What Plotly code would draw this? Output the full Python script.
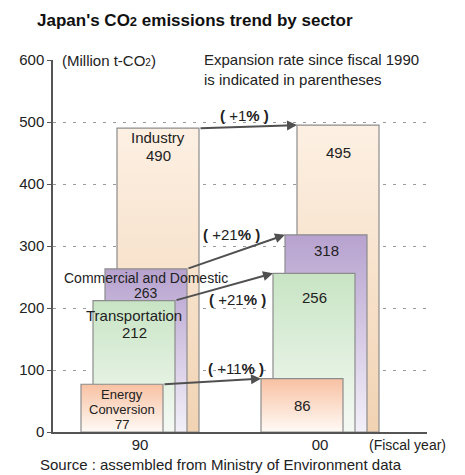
import plotly.graph_objects as go

# ---------------- data ----------------
sectors = ["Industry", "Commercial and Domestic", "Transportation", "Energy Conversion"]
sector_label_lines = [["Industry"], ["Commercial and Domestic"], ["Transportation"], ["Energy", "Conversion"]]
years = ["90", "00"]
values_1990 = [490, 263, 212, 77]
values_2000 = [495, 318, 256, 86]
rate_text = ["+1", "+21", "+21", "+11"]
y_ticks = [0, 100, 200, 300, 400, 500, 600]

# ---------------- style ----------------
top_colors = ["#fdf0e3", "#b7a2cf", "#c8e4c4", "#f8c1a2"]
bottom_colors = ["#f1d3b3", "#f3f0f9", "#f5faf4", "#fffaf6"]
PX = 180.0                      # pixels per x unit
half_w = 41 / PX                 # half bar width
offsets = [18 / PX, 6 / PX, -6 / PX, -18 / PX]
year_x = [0, 1]
FONT = "Liberation Sans, Arial, sans-serif"

# label placement (pixel offsets below bar top, per line)
label_off_1990 = [[9, 27], [9, 24], [15, 32], [10, 25, 40]]
label_font_1990 = [15, 14, 15, 13]
label_off_2000 = [27, 16, 24, 27]
rate_x = [0.58, 0.51, 0.54, 0.535]
rate_y = [511, 318, 214, 103]

fig = go.Figure()
vals = [values_1990, values_2000]
for i, s in enumerate(sectors):
    for j in range(2):
        v = vals[j][i]
        xc = year_x[j] + offsets[i]
        xl, xr = xc - half_w, xc + half_w
        fig.add_trace(go.Scatter(
            x=[xl, xl, xr, xr, xl], y=[0, v, v, 0, 0],
            mode="lines", fill="toself",
            line=dict(color="#8c8c8c", width=1.2),
            fillcolor=top_colors[i],
            fillgradient=dict(type="vertical",
                              colorscale=[[0, bottom_colors[i]], [1, top_colors[i]]]),
            hoverinfo="skip", showlegend=False, name=s))

annos = []
# arrows
for i in range(4):
    x0 = year_x[0] + offsets[i] + half_w
    x1 = year_x[1] + offsets[i] - half_w
    annos.append(dict(x=x1, y=values_2000[i], ax=x0, ay=values_1990[i],
                      xref="x", yref="y", axref="x", ayref="y", text="",
                      showarrow=True, arrowhead=2, arrowsize=1, arrowwidth=2,
                      arrowcolor="#505050"))
# bar labels
for i in range(4):
    xc = year_x[0] + offsets[i]
    lines = sector_label_lines[i] + [str(values_1990[i])]
    for k, ln in enumerate(lines):
        annos.append(dict(x=xc, y=values_1990[i], xref="x", yref="y", text=ln,
                          showarrow=False, yanchor="middle",
                          yshift=-label_off_1990[i][k],
                          font=dict(size=label_font_1990[i])))
    xc2 = year_x[1] + offsets[i]
    annos.append(dict(x=xc2, y=values_2000[i], xref="x", yref="y",
                      text=str(values_2000[i]), showarrow=False, yanchor="middle",
                      yshift=-label_off_2000[i], font=dict(size=15)))
# rate labels
for i in range(4):
    annos.append(dict(x=rate_x[i], y=rate_y[i], xref="x", yref="y",
                      text="<b>(</b> " + rate_text[i] + "<b>%</b> <b>)</b>",
                      showarrow=False, font=dict(size=15)))
# other texts
annos.append(dict(x=-0.445, y=600, xref="x", yref="y", xanchor="left", yanchor="middle",
                  text="(Million t-CO<span style='font-size:10px'>2</span>)",
                  showarrow=False, font=dict(size=15)))
annos.append(dict(x=0.344, y=585, xref="x", yref="y", xanchor="left", yanchor="middle",
                  align="left",
                  text="Expansion rate since fiscal 1990<br>is indicated in parentheses",
                  showarrow=False, font=dict(size=15)))
annos.append(dict(x=0.949, y=-0.035, xref="paper", yref="paper", xanchor="center",
                  yanchor="middle", text="(Fiscal year)", showarrow=False,
                  font=dict(size=14)))
annos.append(dict(x=0.449, y=-0.087, xref="paper", yref="paper", xanchor="center",
                  yanchor="middle",
                  text="Source : assembled from Ministry of Environment data",
                  showarrow=False, font=dict(size=15)))

fig.update_layout(
    width=465, height=475,
    margin=dict(l=53, r=38, t=60, b=43),
    plot_bgcolor="white", paper_bgcolor="white",
    font=dict(family=FONT, size=15, color="#222"),
    title=dict(text="Japan's CO<span style='font-size:13px'>2</span> emissions trend by sector",
               x=37 / 465, xanchor="left", y=1 - 20 / 475, yanchor="middle",
               font=dict(family=FONT, size=17, color="#111", weight="bold")),
    xaxis=dict(range=[-87 / PX, 287 / PX], tickvals=year_x, ticktext=years,
               showgrid=False, zeroline=False, showline=True, linecolor="#555",
               linewidth=1.5, ticks="", tickfont=dict(size=15), ticklabelstandoff=-2),
    yaxis=dict(range=[0, 600], tickvals=y_ticks, showgrid=True, gridcolor="#9a9a9a",
               griddash="3px,7px", gridwidth=1, zeroline=False, showline=True,
               linecolor="#555", linewidth=1.5, ticks="outside", ticklen=4,
               tickcolor="#555", tickfont=dict(size=15)),
    annotations=annos,
    hovermode=False,
)

fig.write_html("out.html", config={"displayModeBar": False},
               post_script="document.body.style.margin='0';")
